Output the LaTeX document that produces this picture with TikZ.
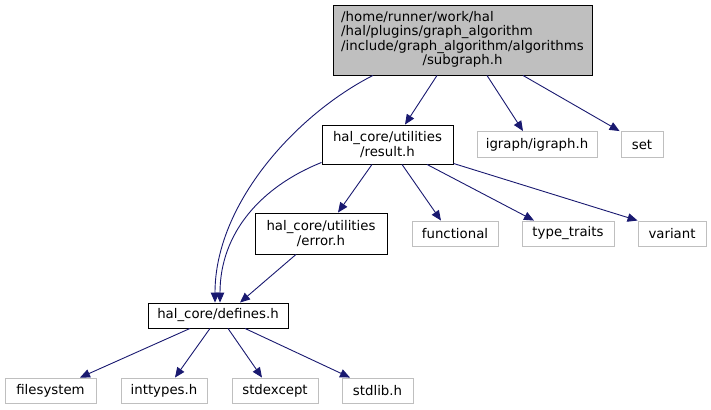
\documentclass[tikz,border=0pt]{standalone}
\usepackage{fontspec}
\setmainfont{DejaVu Sans}
\usetikzlibrary{arrows.meta}
\definecolor{edgeblue}{HTML}{191970}
\definecolor{boxgray}{HTML}{BFBFBF}
\tikzset{
  hdr/.style={draw=black, line width=0.9pt, inner sep=0pt, align=center,
    font=\fontsize{13.3}{14.5}\selectfont},
  mainhdr/.style={hdr, fill=boxgray},
  syshdr/.style={hdr, draw=boxgray, minimum height=26pt},
  inc/.style={draw=edgeblue, line width=0.9pt, -{Triangle[length=10pt,width=8.5pt]}},
}
\begin{document}
\begin{tikzpicture}[x=1pt, y=1pt]
\useasboundingbox (0,0) rectangle (711,-409);
% headers
\node[mainhdr, minimum width=259pt, minimum height=70pt] (subgraph) at (462.5,-40)
  {\begin{tabular}{@{}l@{}}/home/runner/work/hal\\/hal/plugins/graph\_algorithm\\
   /include/graph\_algorithm/algorithms\\\multicolumn{1}{@{}c@{}}{/subgraph.h}\end{tabular}};
\node[hdr, minimum width=131pt, minimum height=39pt] (result) at (387.5,-144.5)
  {hal\_core/utilities\\/result.h};
\node[syshdr, minimum width=120pt] (igraph) at (537,-144.5) {igraph/igraph.h};
\node[syshdr, minimum width=42pt] (set) at (642,-144.5) {set};
\node[hdr, minimum width=132pt, minimum height=41pt] (error) at (321,-233.5)
  {hal\_core/utilities\\/error.h};
\node[syshdr, minimum width=86pt, minimum height=25pt] (functional) at (455,-233.5) {functional};
\node[syshdr, minimum width=92pt, minimum height=25pt] (typetraits) at (568,-233.5) {type\_traits};
\node[syshdr, minimum width=68pt, minimum height=25pt] (variant) at (672,-233.5) {variant};
\node[hdr, minimum width=140pt, minimum height=25pt] (defines) at (218,-315.5) {hal\_core/defines.h};
\node[syshdr, minimum width=91pt, minimum height=25pt] (filesystem) at (50.5,-390.5) {filesystem};
\node[syshdr, minimum width=86pt, minimum height=25pt] (inttypes) at (164,-390.5) {inttypes.h};
\node[syshdr, minimum width=86pt, minimum height=25pt] (stdexcept) at (275,-390.5) {stdexcept};
\node[syshdr, minimum width=71pt, minimum height=25pt] (stdlib) at (377.5,-390.5) {stdlib.h};
% includes
\draw[inc] ([xshift=-25.5pt]subgraph.south) -- ([xshift=17.5pt]result.north);
\draw[inc] ([xshift=-89.5pt]subgraph.south) .. controls +(-75,-38) and +(0,100) .. ([xshift=-3pt]defines.north);
\draw[inc] ([xshift=24.5pt]subgraph.south) -- ([xshift=-14pt]igraph.north);
\draw[inc] ([xshift=60.5pt]subgraph.south) -- ([xshift=-1pt]set.north west);
\draw[inc] ([yshift=2pt]result.south west) .. controls +(-60,-24) and +(0,70) .. ([xshift=2pt]defines.north);
\draw[inc] ([xshift=-15.5pt]result.south) -- ([xshift=17pt]error.north);
\draw[inc] ([xshift=14.5pt]result.south) -- ([xshift=-14pt]functional.north);
\draw[inc] ([xshift=39.5pt]result.south) -- ([xshift=-34pt]typetraits.north);
\draw[inc] ([yshift=1pt]result.south east) -- (variant.north west);
\draw[inc] ([xshift=-25pt]error.south) -- ([xshift=22pt]defines.north);
\draw[inc] ([xshift=-28pt]defines.south) -- ([xshift=29.5pt]filesystem.north);
\draw[inc] ([xshift=-8pt]defines.south) -- ([xshift=11pt]inttypes.north);
\draw[inc] ([xshift=10pt]defines.south) -- ([xshift=-13pt]stdexcept.north);
\draw[inc] ([xshift=27pt]defines.south) -- ([xshift=-27.5pt]stdlib.north);
\end{tikzpicture}
\end{document}
